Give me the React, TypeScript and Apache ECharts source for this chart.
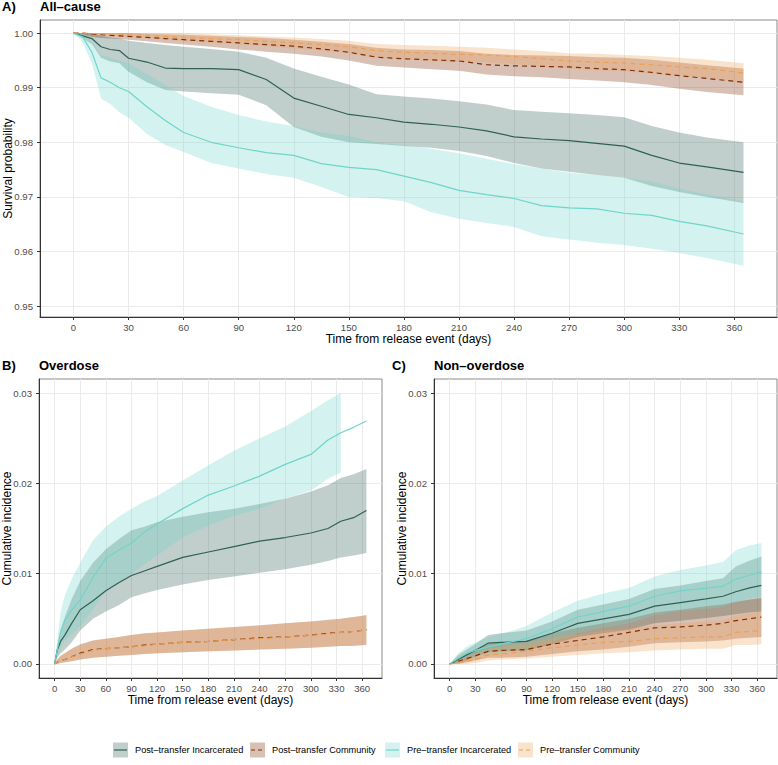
import { useEffect, useRef } from 'react';
import * as echarts from 'echarts';

const FONT = "'Liberation Sans', Arial, Helvetica, sans-serif";

const SERIES_NAMES = ['Post–transfer Incarcerated', 'Post–transfer Community', 'Pre–transfer Incarcerated', 'Pre–transfer Community'];
const PANEL_TITLES = ['All–cause', 'Overdose', 'Non–overdose'];
const PANEL_TAGS = ['A)', 'B)', 'C)'];
const X_TITLE = 'Time from release event (days)';
const Y_TITLES = ['Survival probability', 'Cumulative incidence', 'Cumulative incidence'];
const X_TICKS = [0, 30, 60, 90, 120, 150, 180, 210, 240, 270, 300, 330, 360];
const Y_TICKS_A = [0.95, 0.96, 0.97, 0.98, 0.99, 1.0];
const Y_TICKS_BC = [0, 0.01, 0.02, 0.03];

// ---------- Panel A: all-cause survival ----------
const DAYS_A = [0, 5, 10, 15, 20, 25, 30, 40, 50, 60, 75, 90, 105, 120, 135, 150, 165, 180, 195, 210, 225, 240, 255, 270, 285, 300, 315, 330, 345, 365];
const A_POST_INC = [1.0, 0.9995, 0.999, 0.9975, 0.997, 0.9968, 0.9954, 0.9947, 0.9936, 0.9935, 0.9935, 0.9933, 0.9915, 0.9881, 0.9866, 0.9851, 0.9845, 0.9837, 0.9833, 0.9828, 0.9821, 0.981, 0.9806, 0.9803, 0.9798, 0.9793, 0.9776, 0.9762, 0.9755, 0.9745];
const A_POST_INC_HI = [1.0, 1.0, 1.0, 0.9995, 0.9992, 0.999, 0.9986, 0.9982, 0.9978, 0.9975, 0.9971, 0.9966, 0.9955, 0.9935, 0.992, 0.9906, 0.9888, 0.9884, 0.988, 0.9875, 0.9869, 0.9859, 0.9856, 0.9853, 0.985, 0.9846, 0.983, 0.9818, 0.9809, 0.98];
const A_POST_INC_LO = [1.0, 0.999, 0.998, 0.9955, 0.9948, 0.9945, 0.9929, 0.991, 0.9896, 0.9893, 0.989, 0.9887, 0.9868, 0.9828, 0.981, 0.98, 0.9797, 0.9793, 0.979, 0.9784, 0.9775, 0.9762, 0.9752, 0.9746, 0.974, 0.9735, 0.972, 0.9709, 0.97, 0.9689];
const A_POST_COM = [1.0, 1.0, 0.9998, 0.9997, 0.9996, 0.9995, 0.9994, 0.9992, 0.999, 0.9988, 0.9985, 0.9982, 0.9979, 0.9976, 0.9971, 0.9965, 0.9956, 0.9953, 0.9951, 0.9949, 0.9942, 0.994, 0.9939, 0.9938, 0.9935, 0.9933, 0.9928, 0.9922, 0.9917, 0.991];
const A_POST_COM_HI = [1.0, 1.0, 1.0, 1.0, 1.0, 1.0, 1.0, 0.9999, 0.9998, 0.9997, 0.9995, 0.9993, 0.9991, 0.9988, 0.9984, 0.998, 0.9973, 0.997, 0.9969, 0.9967, 0.9962, 0.996, 0.9959, 0.9958, 0.9956, 0.9955, 0.9951, 0.9946, 0.9941, 0.9935];
const A_POST_COM_LO = [1.0, 0.9997, 0.9993, 0.9991, 0.999, 0.9989, 0.9988, 0.9985, 0.9982, 0.9979, 0.9975, 0.997, 0.9966, 0.9962, 0.9957, 0.995, 0.994, 0.9937, 0.9934, 0.9931, 0.9924, 0.9921, 0.9919, 0.9916, 0.9913, 0.991, 0.9905, 0.9898, 0.9892, 0.9886];
const A_PRE_INC = [1.0, 0.9993, 0.9965, 0.9918, 0.991, 0.99, 0.9893, 0.9865, 0.984, 0.9818, 0.98, 0.979, 0.9781, 0.9776, 0.9761, 0.9754, 0.975, 0.9738, 0.9726, 0.9712, 0.9704, 0.9697, 0.9684, 0.968, 0.9678, 0.967, 0.9666, 0.9655, 0.9647, 0.9632];
const A_PRE_INC_HI = [1.0, 1.0, 0.9985, 0.996, 0.9955, 0.995, 0.9945, 0.9925, 0.9905, 0.9885, 0.9865, 0.985, 0.9838, 0.983, 0.9818, 0.9812, 0.98, 0.9795, 0.9788, 0.978, 0.977, 0.976, 0.9752, 0.9744, 0.974, 0.9735, 0.9728, 0.9715, 0.9705, 0.9692];
const A_PRE_INC_LO = [1.0, 0.9983, 0.9945, 0.988, 0.987, 0.9855, 0.9845, 0.9815, 0.9795, 0.9782, 0.9762, 0.9752, 0.9742, 0.9735, 0.9718, 0.97, 0.9698, 0.9692, 0.9672, 0.966, 0.9652, 0.9645, 0.9628, 0.9622, 0.9616, 0.9612, 0.9605, 0.9597, 0.9588, 0.9574];
const A_PRE_COM = [1.0, 1.0, 0.9999, 0.9999, 0.9998, 0.9998, 0.9997, 0.9996, 0.9994, 0.9992, 0.999, 0.9988, 0.9985, 0.9982, 0.9979, 0.9975, 0.9968, 0.9965, 0.9963, 0.9961, 0.996, 0.9957, 0.9953, 0.9949, 0.9947, 0.9945, 0.9942, 0.9938, 0.9935, 0.9927];
const A_PRE_COM_HI = [1.0, 1.0, 1.0, 1.0, 1.0, 1.0, 1.0, 1.0, 1.0, 1.0, 0.9998, 0.9996, 0.9994, 0.9992, 0.9989, 0.9986, 0.998, 0.9978, 0.9977, 0.9975, 0.9973, 0.997, 0.9967, 0.9963, 0.9962, 0.996, 0.9958, 0.9955, 0.9951, 0.9945];
const A_PRE_COM_LO = [1.0, 0.9999, 0.9997, 0.9996, 0.9995, 0.9994, 0.9993, 0.9991, 0.9988, 0.9985, 0.9982, 0.9979, 0.9976, 0.9972, 0.9968, 0.9963, 0.9955, 0.9952, 0.9949, 0.9947, 0.9946, 0.9943, 0.9939, 0.9935, 0.9932, 0.993, 0.9926, 0.9921, 0.9918, 0.9909];

// ---------- Panel B: overdose cumulative incidence ----------
const DAYS_B = [0, 3, 7, 12, 20, 30, 45, 60, 75, 90, 105, 120, 150, 180, 210, 240, 270, 300, 320, 335, 350, 365];
const B_POST_INC = [0, 0.0015, 0.0025, 0.0032, 0.0045, 0.006, 0.007, 0.0081, 0.009, 0.0098, 0.0103, 0.0108, 0.0118, 0.0124, 0.013, 0.0136, 0.014, 0.0145, 0.015, 0.0158, 0.0162, 0.017];
const B_POST_INC_HI = [0, 0.002, 0.0038, 0.0052, 0.0072, 0.0092, 0.0112, 0.0127, 0.0138, 0.0148, 0.0152, 0.0157, 0.0163, 0.0168, 0.0172, 0.0177, 0.0183, 0.0191, 0.0198, 0.0206, 0.021, 0.0216];
const B_POST_INC_LO = [0, 0.0007, 0.0012, 0.0016, 0.0024, 0.0037, 0.005, 0.0058, 0.0065, 0.0074, 0.0078, 0.0082, 0.0088, 0.0093, 0.0097, 0.0101, 0.0105, 0.011, 0.0114, 0.0118, 0.012, 0.0123];
const B_POST_COM = [0, 0.0002, 0.0004, 0.0005, 0.0008, 0.0012, 0.0016, 0.0017, 0.0018, 0.0019, 0.0021, 0.0022, 0.0024, 0.0025, 0.0027, 0.0029, 0.003, 0.0032, 0.0034, 0.0035, 0.0036, 0.0038];
const B_POST_COM_HI = [0, 0.0005, 0.0009, 0.0012, 0.0017, 0.0022, 0.0026, 0.0028, 0.003, 0.0032, 0.0034, 0.0035, 0.0037, 0.0039, 0.0041, 0.0043, 0.0045, 0.0047, 0.0049, 0.005, 0.0052, 0.0054];
const B_POST_COM_LO = [0, 0, 0.0001, 0.0002, 0.0003, 0.0005, 0.0007, 0.0008, 0.0009, 0.001, 0.0011, 0.0012, 0.0013, 0.0014, 0.0015, 0.0016, 0.0017, 0.0018, 0.0019, 0.002, 0.002, 0.0021];
const B_PRE_INC = [0, 0.0015, 0.0035, 0.0048, 0.006, 0.0071, 0.0096, 0.0117, 0.0126, 0.0134, 0.0146, 0.0155, 0.0172, 0.0187, 0.0197, 0.0208, 0.0221, 0.0232, 0.0248, 0.0256, 0.0262, 0.0269];
const B_PRE_INC_HI = [0, 0.0025, 0.0057, 0.0076, 0.0094, 0.0112, 0.0137, 0.0152, 0.0163, 0.0172, 0.018, 0.0186, 0.0203, 0.022, 0.0236, 0.025, 0.0263, 0.028, 0.0292, 0.03, null, null];
const B_PRE_INC_LO = [0, 0.0007, 0.0018, 0.0026, 0.0033, 0.0042, 0.006, 0.0082, 0.009, 0.01, 0.011, 0.012, 0.014, 0.0153, 0.0164, 0.0172, 0.0183, 0.0192, 0.0205, 0.0212, null, null];
const B_PRE_COM = [0, 0.0002, 0.0004, 0.0005, 0.0008, 0.0011, 0.0015, 0.0017, 0.0018, 0.0019, 0.002, 0.0022, 0.0024, 0.0025, 0.0027, 0.0028, 0.003, 0.0032, 0.0033, 0.0035, 0.0036, 0.0038];
const B_PRE_COM_HI = [0, 0.0005, 0.0009, 0.0012, 0.0017, 0.0021, 0.0026, 0.0028, 0.003, 0.0032, 0.0033, 0.0035, 0.0037, 0.0039, 0.0041, 0.0042, 0.0045, 0.0047, 0.0048, 0.005, 0.0052, 0.0054];
const B_PRE_COM_LO = [0, 0, 0.0001, 0.0002, 0.0003, 0.0005, 0.0007, 0.0008, 0.0009, 0.001, 0.0011, 0.0012, 0.0013, 0.0014, 0.0015, 0.0016, 0.0017, 0.0018, 0.0019, 0.002, 0.0021, 0.0022];

// ---------- Panel C: non-overdose cumulative incidence ----------
const DAYS_C = [0, 10, 20, 30, 45, 60, 90, 120, 150, 180, 210, 240, 270, 300, 320, 335, 350, 365];
const C_POST_INC = [0, 0.0005, 0.001, 0.0015, 0.0023, 0.0024, 0.0025, 0.0034, 0.0045, 0.005, 0.0055, 0.0064, 0.0068, 0.0072, 0.0075, 0.008, 0.0084, 0.0087];
const C_POST_INC_HI = [0, 0.001, 0.0016, 0.0022, 0.0032, 0.0034, 0.0037, 0.0047, 0.006, 0.0066, 0.0072, 0.0083, 0.0087, 0.0092, 0.0095, 0.0108, 0.0114, 0.0119];
const C_POST_INC_LO = [0, 0.0001, 0.0004, 0.0008, 0.0013, 0.0014, 0.0015, 0.0022, 0.003, 0.0034, 0.0038, 0.0045, 0.0048, 0.0051, 0.0053, 0.0055, 0.0057, 0.0058];
const C_POST_COM = [0, 0.0003, 0.0006, 0.0009, 0.0014, 0.0015, 0.0016, 0.0022, 0.0026, 0.003, 0.0035, 0.004, 0.0041, 0.0043, 0.0045, 0.0048, 0.005, 0.0052];
const C_POST_COM_HI = [0, 0.0007, 0.0012, 0.0016, 0.0022, 0.0024, 0.0026, 0.0034, 0.004, 0.0045, 0.005, 0.0057, 0.006, 0.0064, 0.0066, 0.0069, 0.0071, 0.0073];
const C_POST_COM_LO = [0, 0, 0.0002, 0.0004, 0.0007, 0.0007, 0.0008, 0.0011, 0.0014, 0.0016, 0.0019, 0.0023, 0.0024, 0.0025, 0.0026, 0.0028, 0.0029, 0.003];
const C_PRE_INC = [0, 0.0006, 0.0012, 0.0015, 0.0019, 0.0022, 0.0028, 0.0039, 0.0052, 0.0058, 0.0064, 0.0075, 0.0081, 0.0084, 0.0086, 0.0094, 0.0098, 0.0102];
const C_PRE_INC_HI = [0, 0.0012, 0.0019, 0.0024, 0.003, 0.0033, 0.0042, 0.0057, 0.007, 0.0078, 0.0084, 0.0097, 0.0104, 0.0109, 0.0113, 0.0126, 0.0131, 0.0134];
const C_PRE_INC_LO = [0, 0.0002, 0.0006, 0.0008, 0.001, 0.0012, 0.0016, 0.0024, 0.0034, 0.004, 0.0045, 0.0054, 0.0059, 0.0061, 0.0063, 0.0069, 0.0072, 0.0075];
const C_PRE_COM = [0, 0.0001, 0.0003, 0.0005, 0.001, 0.0011, 0.0014, 0.0018, 0.0021, 0.0024, 0.0025, 0.0028, 0.0029, 0.003, 0.003, 0.0035, 0.0036, 0.0037];
const C_PRE_COM_HI = [0, 0.0004, 0.0008, 0.0011, 0.0017, 0.0019, 0.0023, 0.0029, 0.0033, 0.0037, 0.0039, 0.0043, 0.0045, 0.0047, 0.0048, 0.0054, 0.0056, 0.0058];
const C_PRE_COM_LO = [0, 0, 0, 0.0001, 0.0004, 0.0005, 0.0006, 0.0008, 0.001, 0.0012, 0.0013, 0.0015, 0.0016, 0.0017, 0.0017, 0.0021, 0.0021, 0.0022];

// ---------- styling ----------
const LINE_COLORS = ['#2F6153', '#7F2F08', '#6FD5CB', '#EBA055'];
const BAND_COLORS = ['rgba(47,97,83,0.3)', 'rgba(127,47,8,0.3)', 'rgba(111,213,203,0.3)', 'rgba(240,162,88,0.3)'];
const DASHED = [false, true, false, true];
const X_MIN = -18.25;
const X_MAX = 383.25;

type Panel = { days: number[]; mid: number[][]; lo: (number | null)[][]; hi: (number | null)[][] };

const PANELS: Panel[] = [
  {
    days: DAYS_A,
    mid: [A_POST_INC, A_POST_COM, A_PRE_INC, A_PRE_COM],
    lo: [A_POST_INC_LO, A_POST_COM_LO, A_PRE_INC_LO, A_PRE_COM_LO],
    hi: [A_POST_INC_HI, A_POST_COM_HI, A_PRE_INC_HI, A_PRE_COM_HI],
  },
  {
    days: DAYS_B,
    mid: [B_POST_INC, B_POST_COM, B_PRE_INC, B_PRE_COM],
    lo: [B_POST_INC_LO, B_POST_COM_LO, B_PRE_INC_LO, B_PRE_COM_LO],
    hi: [B_POST_INC_HI, B_POST_COM_HI, B_PRE_INC_HI, B_PRE_COM_HI],
  },
  {
    days: DAYS_C,
    mid: [C_POST_INC, C_POST_COM, C_PRE_INC, C_PRE_COM],
    lo: [C_POST_INC_LO, C_POST_COM_LO, C_PRE_INC_LO, C_PRE_COM_LO],
    hi: [C_POST_INC_HI, C_POST_COM_HI, C_PRE_INC_HI, C_PRE_COM_HI],
  },
];

function bandSeries(p: number, days: number[], lo: (number | null)[], hi: (number | null)[], color: string, name: string) {
  return {
    type: 'custom',
    name: name + ' CI',
    xAxisIndex: p,
    yAxisIndex: p,
    silent: true,
    z: 1,
    data: days.map((d, i) => [d, lo[i], hi[i]]),
    encode: { x: 0, y: [1, 2] },
    renderItem: (params: any, api: any) => {
      if (params.dataIndex !== 0) return null;
      const pts: number[][] = [];
      for (let i = 0; i < days.length; i++) {
        if (hi[i] != null && lo[i] != null) pts.push(api.coord([days[i], hi[i]]));
      }
      for (let i = days.length - 1; i >= 0; i--) {
        if (hi[i] != null && lo[i] != null) pts.push(api.coord([days[i], lo[i]]));
      }
      return { type: 'polygon', shape: { points: pts }, style: { fill: color } };
    },
  };
}

function lineSeries(p: number, days: number[], vals: number[], k: number) {
  return {
    type: 'line',
    name: SERIES_NAMES[k],
    xAxisIndex: p,
    yAxisIndex: p,
    data: days.map((d, i) => [d, vals[i]]),
    showSymbol: false,
    symbol: 'none',
    z: 3,
    silent: true,
    lineStyle: { color: LINE_COLORS[k], width: 1.2, type: DASHED[k] ? [5, 4] : 'solid' },
  };
}

function xAxisCfg(i: number) {
  return {
    type: 'value',
    gridIndex: i,
    min: X_MIN,
    max: X_MAX,
    name: X_TITLE,
    nameLocation: 'middle',
    nameGap: 16,
    nameMoveOverlap: false,
    nameTextStyle: { fontSize: 12, color: '#000', fontFamily: FONT },
    axisLine: { show: true, onZero: false, lineStyle: { color: '#333', width: 1 } },
    axisTick: { show: true, length: 3, customValues: X_TICKS, lineStyle: { color: '#333' } },
    axisLabel: { customValues: X_TICKS, color: '#4D4D4D', fontSize: 9.6, margin: 5, fontFamily: FONT },
    splitLine: { show: true, lineStyle: { color: '#EBEBEB', width: 1 } },
  };
}

function yAxisCfg(i: number) {
  const isA = i === 0;
  const ticks = isA ? Y_TICKS_A : Y_TICKS_BC;
  return {
    type: 'value',
    gridIndex: i,
    min: isA ? 0.948 : -0.00155,
    max: isA ? 1.0024 : 0.03155,
    name: Y_TITLES[i],
    nameLocation: 'middle',
    nameGap: 26,
    nameMoveOverlap: false,
    nameTextStyle: { fontSize: 12, color: '#000', fontFamily: FONT },
    axisLine: { show: true, onZero: false, lineStyle: { color: '#333', width: 1 } },
    axisTick: { show: true, length: 3, customValues: ticks, lineStyle: { color: '#333' } },
    axisLabel: {
      customValues: ticks,
      color: '#4D4D4D',
      fontSize: 9.6,
      margin: 7,
      fontFamily: FONT,
      formatter: (v: number) => v.toFixed(2),
    },
    splitLine: { show: true, lineStyle: { color: '#EBEBEB', width: 1 } },
  };
}

const LEGEND_X = [113, 250, 385, 518];

function buildOption() {
  const series: any[] = [];
  PANELS.forEach((pn, p) => {
    for (let k = 0; k < 4; k++) series.push(bandSeries(p, pn.days, pn.lo[k], pn.hi[k], BAND_COLORS[k], SERIES_NAMES[k]));
    for (let k = 0; k < 4; k++) series.push(lineSeries(p, pn.days, pn.mid[k], k));
  });

  const titleStyle = { fontSize: 13, fontWeight: 'bold', color: '#000', fontFamily: FONT };
  const titlePos = [
    { tagLeft: 2, left: 40, top: 0 },
    { tagLeft: 2, left: 39, top: 359 },
    { tagLeft: 392, left: 434, top: 359 },
  ];
  const title: any[] = [];
  titlePos.forEach((t, i) => {
    title.push({ text: PANEL_TAGS[i], left: t.tagLeft, top: t.top, padding: 0, textStyle: titleStyle });
    title.push({ text: PANEL_TITLES[i], left: t.left, top: t.top, padding: 0, textStyle: titleStyle });
  });

  const legendEls: any[] = [];
  SERIES_NAMES.forEach((name, k) => {
    const x = LEGEND_X[k];
    legendEls.push({
      type: 'group',
      children: [
        { type: 'rect', shape: { x, y: 742.5, width: 15, height: 15 }, style: { fill: BAND_COLORS[k] } },
        {
          type: 'line',
          shape: { x1: x + 1, y1: 750, x2: x + 14, y2: 750 },
          style: { stroke: LINE_COLORS[k], lineWidth: 1.2, lineDash: DASHED[k] ? [4, 3] : null },
        },
        {
          type: 'text',
          x: x + 22,
          y: 750,
          style: { text: name, fill: '#000', fontSize: 9.2, fontFamily: FONT, verticalAlign: 'middle', align: 'left' },
        },
      ],
    });
  });

  const gridBase = { show: true, borderColor: '#8A8A8A', borderWidth: 1, containLabel: false, outerBoundsMode: 'none' };

  return {
    animation: false,
    backgroundColor: '#fff',
    textStyle: { fontFamily: FONT },
    title,
    grid: [
      { ...gridBase, left: 40, top: 20, width: 737, height: 297 },
      { ...gridBase, left: 39, top: 379, width: 343, height: 299 },
      { ...gridBase, left: 434, top: 379, width: 343, height: 299 },
    ],
    xAxis: [xAxisCfg(0), xAxisCfg(1), xAxisCfg(2)],
    yAxis: [yAxisCfg(0), yAxisCfg(1), yAxisCfg(2)],
    graphic: legendEls,
    series,
  };
}

export default function App() {
  const ref = useRef<HTMLDivElement>(null);
  useEffect(() => {
    if (!ref.current) return;
    const chart = echarts.init(ref.current, null, { renderer: 'svg' });
    chart.setOption(buildOption() as any);
    return () => chart.dispose();
  }, []);
  return (
    <div
      ref={ref}
      style={{ position: 'absolute', left: 0, top: 0, width: 778, height: 765, background: '#fff' }}
    />
  );
}
